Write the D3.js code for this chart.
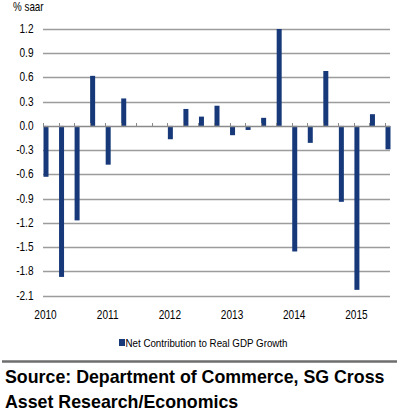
<!DOCTYPE html>
<html>
<head>
<meta charset="utf-8">
<script src="https://cdn.jsdelivr.net/npm/d3@7/dist/d3.min.js"></script>
<style>
  html, body { margin: 0; padding: 0; background: #fff; }
  svg { display: block; }
  text { font-family: Arial, "Liberation Sans", sans-serif; }
</style>
</head>
<body>
<svg id="chart" width="397" height="417"></svg>
<script>
const quarters = ["2010Q1","2010Q2","2010Q3","2010Q4","2011Q1","2011Q2","2011Q3","2011Q4",
  "2012Q1","2012Q2","2012Q3","2012Q4","2013Q1","2013Q2","2013Q3","2013Q4",
  "2014Q1","2014Q2","2014Q3","2014Q4","2015Q1","2015Q2","2015Q3"];
const values = [-0.63, -1.87, -1.17, 0.62, -0.48, 0.34, 0.0, 0.0,
  -0.165, 0.21, 0.115, 0.25, -0.115, -0.05, 0.10, 1.20,
  -1.555, -0.21, 0.68, -0.94, -2.03, 0.145, -0.29];
const yTicks = [1.2, 0.9, 0.6, 0.3, 0.0, -0.3, -0.6, -0.9, -1.2, -1.5, -1.8, -2.1];
const yearLabels = ["2010","2011","2012","2013","2014","2015"];
const yearQuarterIndex = [0, 4, 8, 12, 16, 20];
const seriesName = "Net Contribution to Real GDP Growth";
const unitLabel = "% saar";
const sourceLines = ["Source: Department of Commerce, SG Cross", "Asset Research/Economics"];

const svg = d3.select("#chart");
const barColor = "#17397a";
const plotLeft = 43, plotRight = 390;

const x = d3.scaleLinear().domain([0, quarters.length - 1]).range([43, 385]);
const y = d3.scaleLinear().domain([-2.1, 1.2]).range([295.5, 29]);
const barW = 5;

// gridlines
svg.append("g").selectAll("line").data(yTicks.filter(d => d !== 0)).join("line")
  .attr("x1", plotLeft).attr("x2", plotRight)
  .attr("y1", d => Math.round(y(d)) + 0.5).attr("y2", d => Math.round(y(d)) + 0.5)
  .attr("stroke", "#9c9c9c").attr("stroke-width", 1.3);

// y labels
svg.append("g").selectAll("text").data(yTicks).join("text")
  .attr("transform", d => `translate(33.5,${y(d) + 4}) scale(0.84,1)`)
  .attr("text-anchor", "end")
  .attr("font-size", 12)
  .attr("fill", "#000")
  .text(d => d.toFixed(1));

// bars
svg.append("g").selectAll("rect").data(values).join("rect")
  .attr("x", (d, i) => x(i) + 0.5)
  .attr("width", barW)
  .attr("y", d => Math.min(y(d), y(0)))
  .attr("height", d => Math.abs(y(d) - y(0)))
  .attr("fill", barColor);

// zero axis with ticks
const y0 = Math.round(y(0)) + 0.5;
svg.append("line").attr("x1", plotLeft).attr("x2", plotRight)
  .attr("y1", y0).attr("y2", y0).attr("stroke", "#8a8a8a").attr("stroke-width", 1.3);
svg.append("g").selectAll("line").data(quarters).join("line")
  .attr("x1", (d, i) => Math.round(x(i)) + 0.5).attr("x2", (d, i) => Math.round(x(i)) + 0.5)
  .attr("y1", y0 - 3.5).attr("y2", y0 + 0.5)
  .attr("stroke", "#8a8a8a").attr("stroke-width", 1);

// x labels
svg.append("g").selectAll("text").data(yearLabels).join("text")
  .attr("transform", (d, i) => `translate(${x(yearQuarterIndex[i]) + 2.5},319) scale(0.84,1)`)
  .attr("text-anchor", "middle")
  .attr("font-size", 12)
  .attr("fill", "#000")
  .text(d => d);

// unit label
svg.append("text")
  .attr("transform", "translate(13,11) scale(0.82,1)")
  .attr("font-size", 12).attr("fill", "#000")
  .text(unitLabel);

// legend
svg.append("rect").attr("x", 119).attr("y", 339).attr("width", 6).attr("height", 7).attr("fill", barColor);
svg.append("text")
  .attr("x", 125.5).attr("y", 347)
  .attr("font-size", 11.5).attr("fill", "#000")
  .attr("textLength", 162).attr("lengthAdjust", "spacingAndGlyphs")
  .text(seriesName);

// separator
svg.append("line").attr("x1", 2).attr("x2", 397).attr("y1", 361.5).attr("y2", 361.5)
  .attr("stroke", "#6e6e6e").attr("stroke-width", 2.5);

// source
svg.append("g").selectAll("text").data(sourceLines).join("text")
  .attr("x", 5).attr("y", (d, i) => 383 + i * 25)
  .attr("font-size", 17.8).attr("font-weight", "bold").attr("fill", "#000")
  .text(d => d);
</script>
</body>
</html>
